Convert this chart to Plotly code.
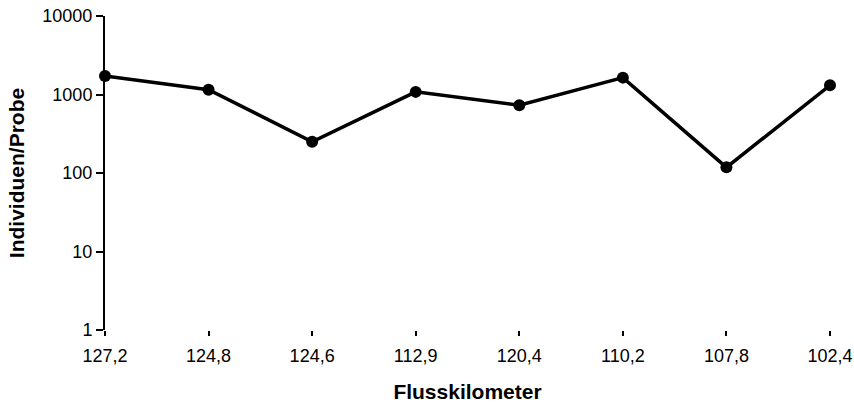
import plotly.graph_objects as go

categories = ["127,2", "124,8", "124,6", "112,9", "120,4", "110,2", "107,8", "102,4"]
values = [1720, 1150, 250, 1080, 730, 1640, 118, 1310]
y_ticks = [1, 10, 100, 1000, 10000]
y_tick_labels = ["1", "10", "100", "1000", "10000"]

fig = go.Figure()
fig.add_trace(go.Scatter(
    x=list(range(len(categories))), y=values, mode="lines+markers",
    line=dict(color="black", width=3.5),
    marker=dict(color="black", size=12),
    cliponaxis=False, showlegend=False,
))

fig.update_layout(
    width=854, height=403,
    margin=dict(l=105, r=24, t=16, b=73),
    paper_bgcolor="white", plot_bgcolor="white",
    font=dict(family="Liberation Sans, Arial, sans-serif", color="black", size=18),
    xaxis=dict(
        range=[0, len(categories) - 1], automargin=False,
        tickmode="array", tickvals=list(range(len(categories))), ticktext=categories,
        showline=False, showgrid=False, zeroline=False,
        ticks="outside", ticklen=5, tickwidth=1.5, tickcolor="black",
        tickfont=dict(size=18), ticklabelstandoff=4,
        title=dict(text="<b>Flusskilometer</b>", font=dict(size=21), standoff=20),
    ),
    yaxis=dict(
        type="log", range=[0, 4], automargin=False,
        tickmode="array", tickvals=y_ticks, ticktext=y_tick_labels,
        showline=True, linecolor="black", linewidth=2,
        showgrid=False, zeroline=False,
        ticks="outside", ticklen=7, tickwidth=2, tickcolor="black",
        tickfont=dict(size=18),
        title=dict(text="<b>Individuen/Probe</b>", font=dict(size=21), standoff=12),
    ),
)

fig.write_html("out.html", config={"displayModeBar": False},
               post_script="document.body.style.margin='0';")
